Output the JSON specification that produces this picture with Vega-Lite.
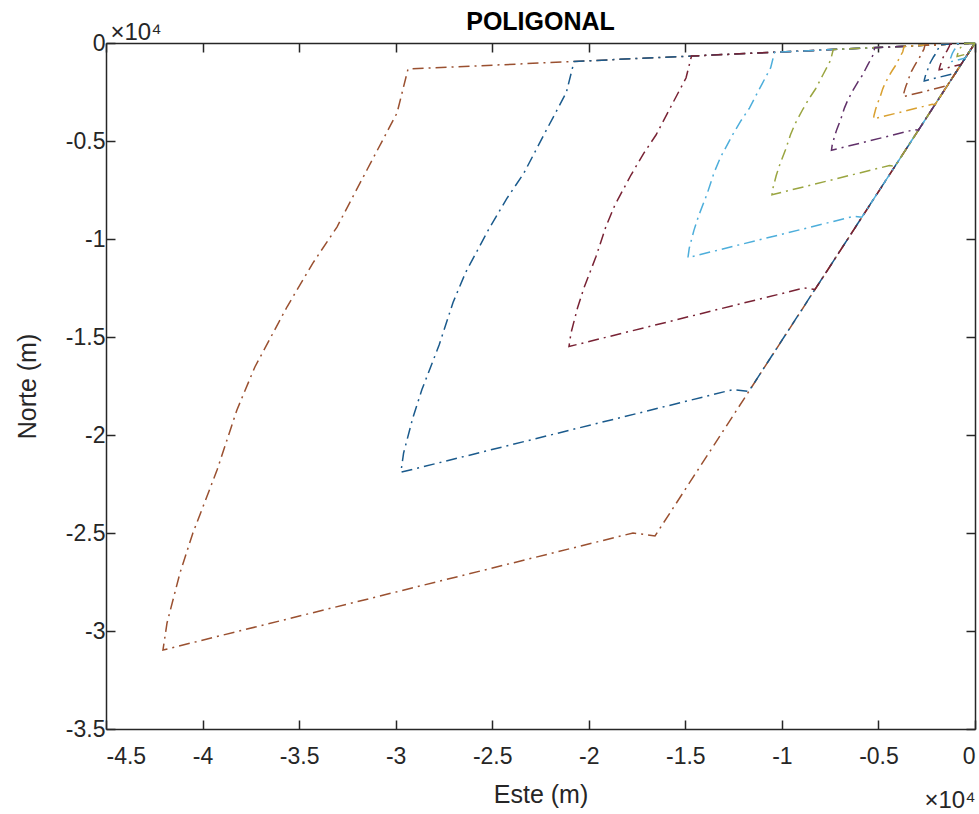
{
"$schema":"https://vega.github.io/schema/vega-lite/v6.json",
"width":869,"height":686,
"autosize":{"type":"none"},
"padding":{"left":106,"top":43,"right":4,"bottom":85},
"background":"white",
"title":{"text":"POLIGONAL","font":"Liberation Sans","fontSize":25,"fontWeight":"bold","color":"#000000","anchor":"middle","baseline":"alphabetic","offset":13,"dy":48},
"config":{"view":{"stroke":null},
 "axis":{"grid":false,"domainColor":"#262626","tickColor":"#262626","labelColor":"#262626","titleColor":"#262626","domainWidth":1.5,"tickWidth":1.5,"tickSize":-9,"labelFont":"Liberation Sans","titleFont":"Liberation Sans","labelFontSize":23,"titleFontSize":25,"titleFontWeight":"normal"}},
"data":{"values":[
{"k":1,"i":0,"x":0,"y":0},{"k":1,"i":1,"x":-29360,"y":-1330},{"k":1,"i":2,"x":-29930,"y":-3570},{"k":1,"i":3,"x":-31490,"y":-6480},{"k":1,"i":4,"x":-33040,"y":-9390},{"k":1,"i":5,"x":-34280,"y":-11220},{"k":1,"i":6,"x":-35630,"y":-13470},{"k":1,"i":7,"x":-37290,"y":-16530},{"k":1,"i":8,"x":-38220,"y":-18720},{"k":1,"i":9,"x":-39250,"y":-21790},{"k":1,"i":10,"x":-40500,"y":-25000},{"k":1,"i":11,"x":-41170,"y":-27040},{"k":1,"i":12,"x":-41840,"y":-29590},{"k":1,"i":13,"x":-42050,"y":-30970},{"k":1,"i":14,"x":-17710,"y":-25000},{"k":1,"i":15,"x":-16570,"y":-25150},{"k":1,"i":16,"x":0,"y":0},
{"k":2,"i":0,"x":0,"y":0},{"k":2,"i":1,"x":-20760,"y":-940},{"k":2,"i":2,"x":-21160,"y":-2520},{"k":2,"i":3,"x":-22270,"y":-4580},{"k":2,"i":4,"x":-23360,"y":-6640},{"k":2,"i":5,"x":-24240,"y":-7930},{"k":2,"i":6,"x":-25190,"y":-9520},{"k":2,"i":7,"x":-26370,"y":-11690},{"k":2,"i":8,"x":-27030,"y":-13240},{"k":2,"i":9,"x":-27750,"y":-15410},{"k":2,"i":10,"x":-28640,"y":-17680},{"k":2,"i":11,"x":-29110,"y":-19120},{"k":2,"i":12,"x":-29590,"y":-20920},{"k":2,"i":13,"x":-29730,"y":-21900},{"k":2,"i":14,"x":-12520,"y":-17680},{"k":2,"i":15,"x":-11720,"y":-17780},{"k":2,"i":16,"x":0,"y":0},
{"k":3,"i":0,"x":0,"y":0},{"k":3,"i":1,"x":-14680,"y":-665},{"k":3,"i":2,"x":-14965,"y":-1785},{"k":3,"i":3,"x":-15745,"y":-3240},{"k":3,"i":4,"x":-16520,"y":-4695},{"k":3,"i":5,"x":-17140,"y":-5610},{"k":3,"i":6,"x":-17815,"y":-6735},{"k":3,"i":7,"x":-18645,"y":-8265},{"k":3,"i":8,"x":-19110,"y":-9360},{"k":3,"i":9,"x":-19625,"y":-10895},{"k":3,"i":10,"x":-20250,"y":-12500},{"k":3,"i":11,"x":-20585,"y":-13520},{"k":3,"i":12,"x":-20920,"y":-14795},{"k":3,"i":13,"x":-21025,"y":-15485},{"k":3,"i":14,"x":-8855,"y":-12500},{"k":3,"i":15,"x":-8285,"y":-12575},{"k":3,"i":16,"x":0,"y":0},
{"k":4,"i":0,"x":0,"y":0},{"k":4,"i":1,"x":-10380,"y":-470},{"k":4,"i":2,"x":-10580,"y":-1260},{"k":4,"i":3,"x":-11135,"y":-2290},{"k":4,"i":4,"x":-11680,"y":-3320},{"k":4,"i":5,"x":-12120,"y":-3965},{"k":4,"i":6,"x":-12595,"y":-4760},{"k":4,"i":7,"x":-13185,"y":-5845},{"k":4,"i":8,"x":-13515,"y":-6620},{"k":4,"i":9,"x":-13875,"y":-7705},{"k":4,"i":10,"x":-14320,"y":-8840},{"k":4,"i":11,"x":-14555,"y":-9560},{"k":4,"i":12,"x":-14795,"y":-10460},{"k":4,"i":13,"x":-14865,"y":-10950},{"k":4,"i":14,"x":-6260,"y":-8840},{"k":4,"i":15,"x":-5860,"y":-8890},{"k":4,"i":16,"x":0,"y":0},
{"k":5,"i":0,"x":0,"y":0},{"k":5,"i":1,"x":-7340,"y":-333},{"k":5,"i":2,"x":-7483,"y":-893},{"k":5,"i":3,"x":-7873,"y":-1620},{"k":5,"i":4,"x":-8260,"y":-2348},{"k":5,"i":5,"x":-8570,"y":-2805},{"k":5,"i":6,"x":-8908,"y":-3368},{"k":5,"i":7,"x":-9323,"y":-4133},{"k":5,"i":8,"x":-9555,"y":-4680},{"k":5,"i":9,"x":-9813,"y":-5448},{"k":5,"i":10,"x":-10125,"y":-6250},{"k":5,"i":11,"x":-10293,"y":-6760},{"k":5,"i":12,"x":-10460,"y":-7398},{"k":5,"i":13,"x":-10513,"y":-7743},{"k":5,"i":14,"x":-4428,"y":-6250},{"k":5,"i":15,"x":-4143,"y":-6288},{"k":5,"i":16,"x":0,"y":0},
{"k":6,"i":0,"x":0,"y":0},{"k":6,"i":1,"x":-5190,"y":-235},{"k":6,"i":2,"x":-5290,"y":-630},{"k":6,"i":3,"x":-5568,"y":-1145},{"k":6,"i":4,"x":-5840,"y":-1660},{"k":6,"i":5,"x":-6060,"y":-1983},{"k":6,"i":6,"x":-6298,"y":-2380},{"k":6,"i":7,"x":-6593,"y":-2923},{"k":6,"i":8,"x":-6758,"y":-3310},{"k":6,"i":9,"x":-6938,"y":-3853},{"k":6,"i":10,"x":-7160,"y":-4420},{"k":6,"i":11,"x":-7278,"y":-4780},{"k":6,"i":12,"x":-7398,"y":-5230},{"k":6,"i":13,"x":-7433,"y":-5475},{"k":6,"i":14,"x":-3130,"y":-4420},{"k":6,"i":15,"x":-2930,"y":-4445},{"k":6,"i":16,"x":0,"y":0},
{"k":7,"i":0,"x":0,"y":0},{"k":7,"i":1,"x":-3670,"y":-166},{"k":7,"i":2,"x":-3741,"y":-446},{"k":7,"i":3,"x":-3936,"y":-810},{"k":7,"i":4,"x":-4130,"y":-1174},{"k":7,"i":5,"x":-4285,"y":-1403},{"k":7,"i":6,"x":-4454,"y":-1684},{"k":7,"i":7,"x":-4661,"y":-2066},{"k":7,"i":8,"x":-4778,"y":-2340},{"k":7,"i":9,"x":-4906,"y":-2724},{"k":7,"i":10,"x":-5063,"y":-3125},{"k":7,"i":11,"x":-5146,"y":-3380},{"k":7,"i":12,"x":-5230,"y":-3699},{"k":7,"i":13,"x":-5256,"y":-3871},{"k":7,"i":14,"x":-2214,"y":-3125},{"k":7,"i":15,"x":-2071,"y":-3144},{"k":7,"i":16,"x":0,"y":0},
{"k":8,"i":0,"x":0,"y":0},{"k":8,"i":1,"x":-2595,"y":-118},{"k":8,"i":2,"x":-2645,"y":-315},{"k":8,"i":3,"x":-2784,"y":-573},{"k":8,"i":4,"x":-2920,"y":-830},{"k":8,"i":5,"x":-3030,"y":-992},{"k":8,"i":6,"x":-3149,"y":-1190},{"k":8,"i":7,"x":-3296,"y":-1461},{"k":8,"i":8,"x":-3379,"y":-1655},{"k":8,"i":9,"x":-3469,"y":-1926},{"k":8,"i":10,"x":-3580,"y":-2210},{"k":8,"i":11,"x":-3639,"y":-2390},{"k":8,"i":12,"x":-3699,"y":-2615},{"k":8,"i":13,"x":-3716,"y":-2738},{"k":8,"i":14,"x":-1565,"y":-2210},{"k":8,"i":15,"x":-1465,"y":-2223},{"k":8,"i":16,"x":0,"y":0},
{"k":9,"i":0,"x":0,"y":0},{"k":9,"i":1,"x":-1835,"y":-83},{"k":9,"i":2,"x":-1871,"y":-223},{"k":9,"i":3,"x":-1968,"y":-405},{"k":9,"i":4,"x":-2065,"y":-587},{"k":9,"i":5,"x":-2143,"y":-701},{"k":9,"i":6,"x":-2227,"y":-842},{"k":9,"i":7,"x":-2331,"y":-1033},{"k":9,"i":8,"x":-2389,"y":-1170},{"k":9,"i":9,"x":-2453,"y":-1362},{"k":9,"i":10,"x":-2531,"y":-1563},{"k":9,"i":11,"x":-2573,"y":-1690},{"k":9,"i":12,"x":-2615,"y":-1849},{"k":9,"i":13,"x":-2628,"y":-1936},{"k":9,"i":14,"x":-1107,"y":-1563},{"k":9,"i":15,"x":-1036,"y":-1572},{"k":9,"i":16,"x":0,"y":0},
{"k":10,"i":0,"x":0,"y":0},{"k":10,"i":1,"x":-1298,"y":-59},{"k":10,"i":2,"x":-1323,"y":-158},{"k":10,"i":3,"x":-1392,"y":-286},{"k":10,"i":4,"x":-1460,"y":-415},{"k":10,"i":5,"x":-1515,"y":-496},{"k":10,"i":6,"x":-1575,"y":-595},{"k":10,"i":7,"x":-1648,"y":-731},{"k":10,"i":8,"x":-1690,"y":-828},{"k":10,"i":9,"x":-1735,"y":-963},{"k":10,"i":10,"x":-1790,"y":-1105},{"k":10,"i":11,"x":-1820,"y":-1195},{"k":10,"i":12,"x":-1850,"y":-1308},{"k":10,"i":13,"x":-1858,"y":-1369},{"k":10,"i":14,"x":-783,"y":-1105},{"k":10,"i":15,"x":-733,"y":-1112},{"k":10,"i":16,"x":0,"y":0},
{"k":11,"i":0,"x":0,"y":0},{"k":11,"i":1,"x":-918,"y":-42},{"k":11,"i":2,"x":-936,"y":-112},{"k":11,"i":3,"x":-984,"y":-203},{"k":11,"i":4,"x":-1033,"y":-294},{"k":11,"i":5,"x":-1072,"y":-351},{"k":11,"i":6,"x":-1114,"y":-421},{"k":11,"i":7,"x":-1166,"y":-517},{"k":11,"i":8,"x":-1195,"y":-585},{"k":11,"i":9,"x":-1227,"y":-681},{"k":11,"i":10,"x":-1266,"y":-782},{"k":11,"i":11,"x":-1287,"y":-845},{"k":11,"i":12,"x":-1308,"y":-925},{"k":11,"i":13,"x":-1314,"y":-968},{"k":11,"i":14,"x":-554,"y":-782},{"k":11,"i":15,"x":-518,"y":-786},{"k":11,"i":16,"x":0,"y":0},
{"k":12,"i":0,"x":0,"y":0},{"k":12,"i":1,"x":-649,"y":-30},{"k":12,"i":2,"x":-662,"y":-79},{"k":12,"i":3,"x":-696,"y":-143},{"k":12,"i":4,"x":-730,"y":-208},{"k":12,"i":5,"x":-758,"y":-248},{"k":12,"i":6,"x":-788,"y":-298},{"k":12,"i":7,"x":-824,"y":-366},{"k":12,"i":8,"x":-845,"y":-414},{"k":12,"i":9,"x":-868,"y":-482},{"k":12,"i":10,"x":-895,"y":-553},{"k":12,"i":11,"x":-910,"y":-598},{"k":12,"i":12,"x":-925,"y":-654},{"k":12,"i":13,"x":-929,"y":-685},{"k":12,"i":14,"x":-392,"y":-553},{"k":12,"i":15,"x":-367,"y":-556},{"k":12,"i":16,"x":0,"y":0}
]},
"layer":[
{"mark":{"type":"line","strokeWidth":1.5,"strokeDash":[11,5,2,5]},
 "encoding":{
  "x":{"field":"x","type":"quantitative","scale":{"domain":[-45000,0],"nice":false,"zero":false},
   "axis":{"orient":"bottom","values":[-45000,-40000,-35000,-30000,-25000,-20000,-15000,-10000,-5000,0],"labelExpr":"toString(datum.value/10000)","labelPadding":25,"title":"Este (m)","titleBaseline":"alphabetic","titleY":73}},
  "y":{"field":"y","type":"quantitative","scale":{"domain":[-35000,0],"nice":false,"zero":false},
   "axis":{"orient":"left","values":[-35000,-30000,-25000,-20000,-15000,-10000,-5000,0],"labelExpr":"toString(datum.value/10000)","labelPadding":10,"title":"Norte (m)","titleBaseline":"middle","titleX":-79,"titleY":343}},
  "color":{"field":"k","type":"nominal","legend":null,
   "scale":{"domain":[1,2,3,4,5,6,7,8,9,10,11,12],"range":["#9A5030","#1A5A8C","#782234","#4DAEDB","#9AA540","#603069","#D9A030","#9A5030","#1A5A8C","#782234","#4DAEDB","#9AA540"]}},
  "order":{"field":"i","type":"quantitative"}}},
{"mark":{"type":"line","opacity":0},
 "encoding":{
  "x":{"field":"x","type":"quantitative","scale":{"domain":[-45000,0],"nice":false,"zero":false},
   "axis":{"orient":"top","values":[-45000,-40000,-35000,-30000,-25000,-20000,-15000,-10000,-5000,0],"labels":false,"title":"×10⁴","titleFontSize":24,"titleAnchor":"start","titleAlign":"left","titleBaseline":"alphabetic","titleX":4,"titleY":-4}},
  "y":{"field":"y","type":"quantitative","scale":{"domain":[-35000,0],"nice":false,"zero":false},
   "axis":{"orient":"right","values":[-35000,-30000,-25000,-20000,-15000,-10000,-5000,0],"labels":false,"title":"×10⁴","titleFontSize":24,"titleAngle":0,"titleAlign":"right","titleBaseline":"alphabetic","titleX":0,"titleY":764}},
  "detail":{"field":"k","type":"nominal"},
  "order":{"field":"i","type":"quantitative"}}}
],
"resolve":{"axis":{"x":"independent","y":"independent"}}
}
